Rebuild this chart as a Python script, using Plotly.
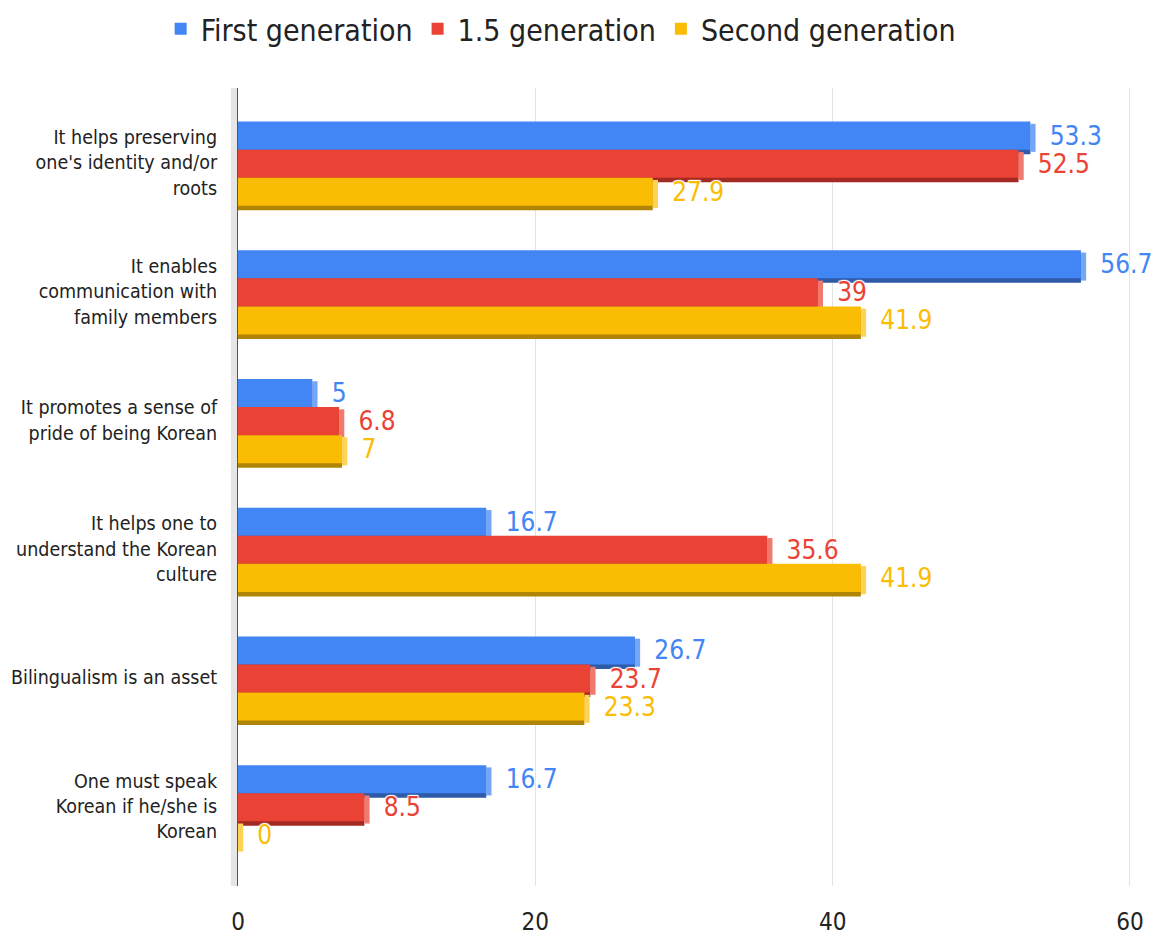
import plotly.graph_objects as go

categories = [
    "It helps preserving<br>one's identity and/or<br>roots",
    "It enables<br>communication with<br>family members",
    "It promotes a sense of<br>pride of being Korean",
    "It helps one to<br>understand the Korean<br>culture",
    "Bilingualism is an asset",
    "One must speak<br>Korean if he/she is<br>Korean",
]
first_gen = [53.3, 56.7, 5, 16.7, 26.7, 16.7]
one_five_gen = [52.5, 39, 6.8, 35.6, 23.7, 8.5]
second_gen = [27.9, 41.9, 7, 41.9, 23.3, 0]
x_ticks = [0, 20, 40, 60]

FONT = "DejaVu Sans Condensed, Roboto, Arial, sans-serif"
BAR_W = 0.218
DEPTH = 0.035  # fake 3D depth, in category units
BEVEL = 0.35   # width of the lighter end face, in value units

series = [
    ("First generation", first_gen, "#4285F4", "#2F5AA8", "#74A6F7", -0.319),
    ("1.5 generation", one_five_gen, "#EA4335", "#A22A22", "#F07A6F", -0.101),
    ("Second generation", second_gen, "#FBBC04", "#B08404", "#FCD257", 0.117),
]

fig = go.Figure()

for name, vals, color, dark, light, off in series:
    # darker bottom face
    fig.add_trace(go.Bar(
        y=categories, x=vals, orientation="h", width=BAR_W, offset=off + DEPTH,
        marker=dict(color=dark, line=dict(width=0)), showlegend=False,
        hoverinfo="skip", cliponaxis=False,
    ))
    # lighter end face
    fig.add_trace(go.Bar(
        y=categories, x=[BEVEL] * len(vals), base=vals, orientation="h",
        width=BAR_W, offset=off + DEPTH / 2,
        marker=dict(color=light, line=dict(width=0)), showlegend=False,
        hoverinfo="skip", cliponaxis=False,
    ))
    # front face + label
    fig.add_trace(go.Bar(
        y=categories, x=vals, orientation="h", width=BAR_W, offset=off,
        name=name, marker=dict(color=color, line=dict(width=0)),
        text=vals, texttemplate="\u2002\u2009%{x}", textposition="outside",
        constraintext="none",
        textfont=dict(color=color, size=26, family=FONT,
                      shadow="1px 1px 1px #fff, -1px -1px 1px #fff, 1px -1px 1px #fff, -1px 1px 1px #fff"),
        cliponaxis=False,
    ))

fig.update_layout(
    width=1156, height=936,
    barmode="overlay",
    plot_bgcolor="white", paper_bgcolor="white",
    font=dict(family=FONT, color="#222"),
    margin=dict(l=238, r=22, t=88, b=50),
    legend=dict(orientation="h", x=0.485, xanchor="center", xref="container",
                y=0.997, yanchor="top", yref="container",
                font=dict(size=30, color="#222"), itemwidth=30, traceorder="normal"),
    xaxis=dict(range=[0, 60.27], tickvals=x_ticks, showgrid=True, gridcolor="#e3e3e3",
               gridwidth=1, zeroline=False, tickfont=dict(size=24, color="#222"),
               ticks="outside", ticklen=14, tickcolor="rgba(0,0,0,0)", automargin=False),
    yaxis=dict(categoryorder="array", categoryarray=categories, range=[5.62, -0.58],
               showline=True, linecolor="#555", linewidth=1, showgrid=False,
               tickfont=dict(size=19.5, color="#222"), ticks="outside", ticklen=16,
               tickcolor="rgba(0,0,0,0)", automargin=False),
    shapes=[dict(type="rect", xref="x domain", yref="y domain", x0=-0.008, x1=0,
                 y0=0, y1=1, fillcolor="#e6e6e6", line=dict(width=0), layer="below")],
)

fig.write_html("out.html", config={"displayModeBar": False},
               post_script="document.body.style.margin='0px';")
